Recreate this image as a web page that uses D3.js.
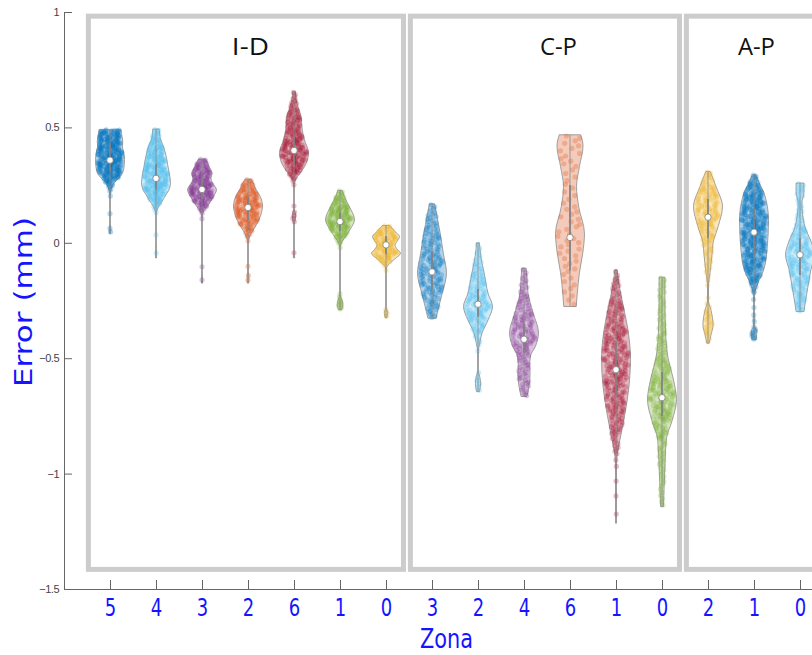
<!DOCTYPE html>
<html>
<head>
<meta charset="utf-8">
<script src="https://cdn.jsdelivr.net/npm/d3@7"></script>
<style>
  html, body { margin: 0; padding: 0; background: #fff; }
  svg { display: block; }
</style>
</head>
<body>
<div id="root"></div>
<script>
// data
const panels = ['I-D', 'C-P', 'A-P'];
const zones = [
  ['5', '4', '3', '2', '6', '1', '0'],
  ['3', '2', '4', '6', '1', '0'],
  ['2', '1', '0'],
];
const colors = [
  ['#0072BD', '#4DBEEE', '#7E2F8E', '#D95319', '#A2142F', '#77AC30', '#EDB120'],
  ['#0072BD', '#4DBEEE', '#7E2F8E', '#D95319', '#A2142F', '#77AC30'],
  ['#EDB120', '#0072BD', '#4DBEEE'],
];
const medians = [
  [0.358, 0.279, 0.231, 0.153, 0.40, 0.092, -0.009],
  [-0.126, -0.266, -0.418, 0.023, -0.55, -0.671],
  [0.111, 0.046, -0.052],
];
const lowerQuartiles = [
  [0.31, 0.23, 0.19, 0.10, 0.34, 0.05, -0.05],
  [-0.20, -0.32, -0.48, -0.12, -0.66, -0.75],
  [0.02, -0.06, -0.14],
];
const upperQuartiles = [
  [0.43, 0.34, 0.28, 0.20, 0.46, 0.13, 0.03],
  [-0.04, -0.20, -0.35, 0.25, -0.43, -0.56],
  [0.19, 0.15, 0.02],
];
const sampleCounts = [
  [280, 230, 150, 150, 190, 140, 100],
  [150, 120, 120, 60, 280, 230],
  [150, 360, 150],
];
// density profiles: [error value, relative density], top to bottom
const densities = [
  [
    [[0.49, 0.75], [0.47, 0.8], [0.44, 0.88], [0.42, 0.85], [0.39, 0.95], [0.36, 1.0], [0.33, 0.97], [0.30, 0.85], [0.28, 0.6], [0.26, 0.3], [0.24, 0.12], [0.22, 0.04], [0.18, 0.004], [0.10, 0.004], [0.07, 0.02], [0.055, 0.06], [0.04, 0.04]],
    [[0.493, 0.22], [0.47, 0.25], [0.45, 0.3], [0.42, 0.5], [0.38, 0.68], [0.34, 0.8], [0.30, 0.92], [0.26, 1.0], [0.23, 0.9], [0.21, 0.7], [0.18, 0.42], [0.16, 0.2], [0.14, 0.07], [0.12, 0.01], [0.0, 0.003], [-0.05, 0.03], [-0.066, 0.02]],
    [[0.363, 0.25], [0.34, 0.42], [0.32, 0.58], [0.30, 0.7], [0.28, 0.62], [0.26, 0.72], [0.23, 1.0], [0.20, 0.78], [0.18, 0.6], [0.16, 0.4], [0.14, 0.15], [0.12, 0.03], [0.08, 0.003], [-0.12, 0.003], [-0.16, 0.04], [-0.175, 0.03]],
    [[0.276, 0.2], [0.26, 0.35], [0.23, 0.57], [0.20, 0.85], [0.16, 1.0], [0.12, 0.88], [0.08, 0.6], [0.05, 0.3], [0.025, 0.1], [0.0, 0.01], [-0.1, 0.003], [-0.14, 0.05], [-0.16, 0.06], [-0.175, 0.03]],
    [[0.656, 0.1], [0.62, 0.15], [0.58, 0.32], [0.55, 0.48], [0.49, 0.57], [0.45, 0.7], [0.39, 1.0], [0.345, 0.85], [0.30, 0.4], [0.275, 0.12], [0.25, 0.02], [0.15, 0.003], [0.12, 0.12], [0.10, 0.1], [0.08, 0.004], [-0.04, 0.004], [-0.065, 0.05]],
    [[0.227, 0.15], [0.20, 0.3], [0.16, 0.62], [0.10, 1.0], [0.06, 0.72], [0.02, 0.3], [-0.005, 0.07], [-0.03, 0.003], [-0.22, 0.003], [-0.25, 0.15], [-0.27, 0.2], [-0.29, 0.1]],
    [[0.075, 0.25], [0.05, 0.6], [0.027, 0.93], [0.005, 0.75], [-0.01, 0.62], [-0.03, 0.8], [-0.045, 1.0], [-0.07, 0.6], [-0.09, 0.25], [-0.105, 0.05], [-0.13, 0.003], [-0.28, 0.003], [-0.30, 0.12], [-0.325, 0.06]],
  ],
  [
    [[0.169, 0.18], [0.13, 0.3], [0.08, 0.45], [0.04, 0.57], [-0.045, 0.78], [-0.13, 1.0], [-0.22, 0.7], [-0.29, 0.42], [-0.327, 0.28]],
    [[0.0, 0.1], [-0.03, 0.14], [-0.08, 0.25], [-0.13, 0.42], [-0.22, 0.7], [-0.276, 1.0], [-0.334, 0.7], [-0.39, 0.28], [-0.435, 0.12], [-0.47, 0.02], [-0.55, 0.005], [-0.58, 0.12], [-0.61, 0.18], [-0.645, 0.1]],
    [[-0.11, 0.15], [-0.15, 0.2], [-0.22, 0.28], [-0.305, 0.64], [-0.39, 1.0], [-0.45, 0.78], [-0.49, 0.45], [-0.53, 0.4], [-0.565, 0.42], [-0.62, 0.35], [-0.666, 0.2]],
    [[0.468, 0.74], [0.42, 0.9], [0.33, 0.65], [0.244, 0.45], [0.157, 0.6], [0.04, 1.0], [-0.045, 0.88], [-0.13, 0.65], [-0.22, 0.5], [-0.276, 0.43]],
    [[-0.117, 0.08], [-0.15, 0.14], [-0.25, 0.42], [-0.36, 0.78], [-0.5, 1.0], [-0.62, 0.9], [-0.74, 0.62], [-0.83, 0.35], [-0.91, 0.1], [-0.97, 0.03], [-1.1, 0.025], [-1.215, 0.02]],
    [[-0.149, 0.2], [-0.25, 0.2], [-0.39, 0.25], [-0.5, 0.42], [-0.59, 0.78], [-0.68, 1.0], [-0.77, 0.7], [-0.85, 0.3], [-0.97, 0.2], [-1.05, 0.15], [-1.143, 0.1]],
  ],
  [
    [[0.309, 0.15], [0.244, 0.55], [0.157, 1.0], [0.071, 0.7], [0.0, 0.35], [-0.05, 0.28], [-0.13, 0.14], [-0.19, 0.03], [-0.25, 0.03], [-0.29, 0.2], [-0.355, 0.35], [-0.40, 0.2], [-0.435, 0.08]],
    [[0.295, 0.12], [0.26, 0.35], [0.215, 0.7], [0.10, 1.0], [-0.016, 0.92], [-0.117, 0.67], [-0.175, 0.27], [-0.218, 0.05], [-0.3, 0.01], [-0.33, 0.06], [-0.36, 0.01], [-0.38, 0.2], [-0.42, 0.15]],
    [[0.259, 0.27], [0.22, 0.27], [0.172, 0.13], [0.071, 0.33], [0.0, 0.8], [-0.052, 1.0], [-0.117, 0.75], [-0.189, 0.55], [-0.262, 0.35], [-0.298, 0.27]],
  ],
];
const yTicks = [-1.5, -1, -0.5, 0, 0.5, 1];

const width = 812;
const height = 655;
const blue = '#1414ff';

const groups = panels.flatMap((panel, p) => zones[p].map((zone, i) => ({
  key: `${panel}|${zone}`,
  panel,
  zone,
  color: colors[p][i],
  median: medians[p][i],
  q1: lowerQuartiles[p][i],
  q3: upperQuartiles[p][i],
  count: sampleCounts[p][i],
  profile: densities[p][i],
})));

const svg = d3.select('#root').append('svg')
  .attr('width', width)
  .attr('height', height);

const xScale = d3.scalePoint()
  .domain(groups.map(d => d.key))
  .range([64, 846])
  .padding(1);

const yScale = d3.scaleLinear()
  .domain([-1.5, 1])
  .range([589, 12]);

const widthScale = d3.scaleLinear()
  .domain([0, 1])
  .range([0, xScale.step() * 0.315]);

// panel frames
const frameTop = yScale(0.982);
const frameBottom = yScale(-1.415);
const titleOffsets = [162, 148, 70];

panels.forEach((panel, p) => {
  const keys = groups.filter(d => d.panel === panel).map(d => d.key);
  const left = xScale(keys[0]) - xScale.step() * 0.47;
  const right = xScale(keys[keys.length - 1]) + xScale.step() * 0.38;

  svg.append('rect')
    .attr('x', left)
    .attr('y', frameTop)
    .attr('width', right - left)
    .attr('height', frameBottom - frameTop)
    .attr('fill', 'none')
    .attr('stroke', '#cccccc')
    .attr('stroke-width', 5);

  svg.append('text')
    .attr('x', left + titleOffsets[p])
    .attr('y', 55)
    .attr('text-anchor', 'middle')
    .attr('font-family', 'Open Sans, sans-serif')
    .attr('font-size', 24)
    .attr('fill', '#111')
    .attr('textLength', 37)
    .attr('lengthAdjust', 'spacingAndGlyphs')
    .text(panel);
});

// axes
const xAxis = d3.axisBottom(xScale)
  .tickSizeInner(-9)
  .tickSizeOuter(0)
  .tickPadding(9)
  .tickFormat(k => k.split('|')[1]);

svg.append('g')
  .attr('transform', `translate(0, ${yScale(-1.5)})`)
  .call(xAxis)
  .call(g => g.select('.domain').attr('stroke', '#666'))
  .call(g => g.selectAll('.tick line').attr('stroke', '#666'))
  .call(g => g.selectAll('.tick text')
    .attr('fill', blue)
    .attr('font-family', 'DejaVu Sans, sans-serif')
    .attr('font-size', 25)
    .attr('transform', 'scale(0.72, 1)'));

const yAxis = d3.axisLeft(yScale)
  .tickValues(yTicks)
  .tickSizeInner(-8)
  .tickSizeOuter(0)
  .tickPadding(5)
  .tickFormat(d3.format('~g'));

svg.append('g')
  .attr('transform', `translate(64, 0)`)
  .call(yAxis)
  .call(g => g.select('.domain').attr('stroke', '#666'))
  .call(g => g.selectAll('.tick line').attr('stroke', '#666'))
  .call(g => g.selectAll('.tick text')
    .attr('fill', '#444')
    .attr('font-family', 'Liberation Sans, Arial, sans-serif')
    .attr('font-size', 11)
    .attr('letter-spacing', -0.5));

svg.append('text')
  .attr('transform', 'translate(32, 302) rotate(-90)')
  .attr('text-anchor', 'middle')
  .attr('font-family', 'DejaVu Sans, sans-serif')
  .attr('font-size', 25)
  .attr('fill', blue)
  .attr('textLength', 170)
  .attr('lengthAdjust', 'spacingAndGlyphs')
  .text('Error (mm)');

svg.append('text')
  .attr('x', 420)
  .attr('y', 648)
  .attr('font-family', 'DejaVu Sans, sans-serif')
  .attr('font-size', 26)
  .attr('fill', blue)
  .attr('textLength', 53)
  .attr('lengthAdjust', 'spacingAndGlyphs')
  .text('Zona');

// spread the dots of a violin along its density profile
function spreadDots(profile, count) {
  const areas = d3.pairs(profile, (a, b) => (a[1] + b[1]) / 2 * (a[0] - b[0]));
  const total = d3.sum(areas);
  const dots = [];
  for (let k = 0; k < count; k++) {
    let target = (k + 0.5) / count * total;
    let s = 0;
    while (s < areas.length - 1 && target > areas[s]) {
      target -= areas[s];
      s++;
    }
    const [v0] = profile[s];
    const [v1] = profile[s + 1];
    const value = v0 - (target / areas[s]) * (v0 - v1);
    const u = ((k * 0.618034 + ((k * k * 0.1414) % 1) * 0.35 + 0.31) % 1) * 2 - 1;
    dots.push({ value, u });
  }
  return dots;
}

const violinArea = d3.area()
  .y(d => yScale(d[0]))
  .curve(d3.curveMonotoneY);

const violins = svg.selectAll('.violin')
  .data(groups)
  .enter()
  .append('g')
  .attr('class', 'violin')
  .attr('transform', d => `translate(${xScale(d.key)}, 0)`);

violins.append('path')
  .attr('d', d => violinArea
    .x0(p => -widthScale(p[1]))
    .x1(p => widthScale(p[1]))(d.profile))
  .attr('fill', d => d.color)
  .attr('fill-opacity', 0.3)
  .attr('stroke', '#8c8c8c')
  .attr('stroke-width', 0.8);

violins.each(function (d) {
  const densityAt = d3.scaleLinear()
    .domain(d.profile.map(p => p[0]))
    .range(d.profile.map(p => p[1]));

  d3.select(this).selectAll('circle.dot')
    .data(spreadDots(d.profile, d.count))
    .enter()
    .append('circle')
    .attr('class', 'dot')
    .attr('cx', p => widthScale(densityAt(p.value)) * p.u * 0.88)
    .attr('cy', p => yScale(p.value))
    .attr('r', 2.6)
    .attr('fill', d.color)
    .attr('fill-opacity', 0.27);
});

violins.append('line')
  .attr('y1', d => yScale(d.profile[0][0]))
  .attr('y2', d => yScale(d.profile[d.profile.length - 1][0]))
  .attr('stroke', '#8c8c8c')
  .attr('stroke-width', 0.8);

violins.append('line')
  .attr('y1', d => yScale(d.q3))
  .attr('y2', d => yScale(d.q1))
  .attr('stroke', '#808080')
  .attr('stroke-width', 1.6);

violins.append('circle')
  .attr('cy', d => yScale(d.median))
  .attr('r', 3.2)
  .attr('fill', '#fff')
  .attr('stroke', '#808080')
  .attr('stroke-width', 0.8);
</script>
</body>
</html>
